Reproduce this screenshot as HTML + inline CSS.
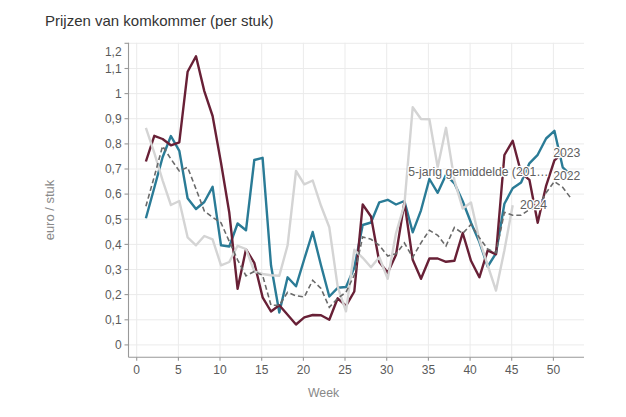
<!DOCTYPE html>
<html><head><meta charset="utf-8"><style>
html,body{margin:0;padding:0;background:#fff;width:626px;height:417px;overflow:hidden}
svg{display:block}
text{font-family:"Liberation Sans",sans-serif}
.tl{font-size:12px;fill:#5a5a5a}
.ll{font-size:12.2px;fill:#606060;stroke:#fff;stroke-width:2.4px;paint-order:stroke;stroke-linejoin:round}
</style></head><body>
<svg width="626" height="417" viewBox="0 0 626 417">
<rect width="626" height="417" fill="#fff"/>
<text x="45.0" y="25.8" style="font-size:15px;fill:#333">Prijzen van komkommer (per stuk)</text>
<text transform="translate(54,210) rotate(-90)" text-anchor="middle" style="font-size:13px;fill:#888">euro / stuk</text>
<text x="323.6" y="397.0" text-anchor="middle" style="font-size:12.3px;fill:#888">Week</text>
<line x1="128.5" y1="344.9" x2="584.0" y2="344.9" stroke="#ebebeb" stroke-width="1"/>
<line x1="128.5" y1="319.8" x2="584.0" y2="319.8" stroke="#ebebeb" stroke-width="1"/>
<line x1="128.5" y1="294.6" x2="584.0" y2="294.6" stroke="#ebebeb" stroke-width="1"/>
<line x1="128.5" y1="269.5" x2="584.0" y2="269.5" stroke="#ebebeb" stroke-width="1"/>
<line x1="128.5" y1="244.4" x2="584.0" y2="244.4" stroke="#ebebeb" stroke-width="1"/>
<line x1="128.5" y1="219.2" x2="584.0" y2="219.2" stroke="#ebebeb" stroke-width="1"/>
<line x1="128.5" y1="194.1" x2="584.0" y2="194.1" stroke="#ebebeb" stroke-width="1"/>
<line x1="128.5" y1="169.0" x2="584.0" y2="169.0" stroke="#ebebeb" stroke-width="1"/>
<line x1="128.5" y1="143.9" x2="584.0" y2="143.9" stroke="#ebebeb" stroke-width="1"/>
<line x1="128.5" y1="118.7" x2="584.0" y2="118.7" stroke="#ebebeb" stroke-width="1"/>
<line x1="128.5" y1="93.6" x2="584.0" y2="93.6" stroke="#ebebeb" stroke-width="1"/>
<line x1="128.5" y1="68.5" x2="584.0" y2="68.5" stroke="#ebebeb" stroke-width="1"/>
<line x1="128.5" y1="43.3" x2="584.0" y2="43.3" stroke="#ebebeb" stroke-width="1"/>
<line x1="136.7" y1="42.8" x2="136.7" y2="357.3" stroke="#ebebeb" stroke-width="1"/>
<line x1="178.4" y1="42.8" x2="178.4" y2="357.3" stroke="#ebebeb" stroke-width="1"/>
<line x1="220.0" y1="42.8" x2="220.0" y2="357.3" stroke="#ebebeb" stroke-width="1"/>
<line x1="261.7" y1="42.8" x2="261.7" y2="357.3" stroke="#ebebeb" stroke-width="1"/>
<line x1="303.4" y1="42.8" x2="303.4" y2="357.3" stroke="#ebebeb" stroke-width="1"/>
<line x1="345.0" y1="42.8" x2="345.0" y2="357.3" stroke="#ebebeb" stroke-width="1"/>
<line x1="386.7" y1="42.8" x2="386.7" y2="357.3" stroke="#ebebeb" stroke-width="1"/>
<line x1="428.4" y1="42.8" x2="428.4" y2="357.3" stroke="#ebebeb" stroke-width="1"/>
<line x1="470.1" y1="42.8" x2="470.1" y2="357.3" stroke="#ebebeb" stroke-width="1"/>
<line x1="511.7" y1="42.8" x2="511.7" y2="357.3" stroke="#ebebeb" stroke-width="1"/>
<line x1="553.4" y1="42.8" x2="553.4" y2="357.3" stroke="#ebebeb" stroke-width="1"/>
<line x1="128.5" y1="42.8" x2="128.5" y2="357.3" stroke="#999" stroke-width="1.1"/>
<line x1="128.5" y1="357.3" x2="584.0" y2="357.3" stroke="#999" stroke-width="1.1"/>
<line x1="124.5" y1="344.9" x2="128.5" y2="344.9" stroke="#999" stroke-width="1.1"/>
<text x="121.6" y="349.2" text-anchor="end" class="tl">0</text>
<line x1="124.5" y1="319.8" x2="128.5" y2="319.8" stroke="#999" stroke-width="1.1"/>
<text x="121.6" y="324.1" text-anchor="end" class="tl">0,1</text>
<line x1="124.5" y1="294.6" x2="128.5" y2="294.6" stroke="#999" stroke-width="1.1"/>
<text x="121.6" y="298.9" text-anchor="end" class="tl">0,2</text>
<line x1="124.5" y1="269.5" x2="128.5" y2="269.5" stroke="#999" stroke-width="1.1"/>
<text x="121.6" y="273.8" text-anchor="end" class="tl">0,3</text>
<line x1="124.5" y1="244.4" x2="128.5" y2="244.4" stroke="#999" stroke-width="1.1"/>
<text x="121.6" y="248.7" text-anchor="end" class="tl">0,4</text>
<line x1="124.5" y1="219.2" x2="128.5" y2="219.2" stroke="#999" stroke-width="1.1"/>
<text x="121.6" y="223.5" text-anchor="end" class="tl">0,5</text>
<line x1="124.5" y1="194.1" x2="128.5" y2="194.1" stroke="#999" stroke-width="1.1"/>
<text x="121.6" y="198.4" text-anchor="end" class="tl">0,6</text>
<line x1="124.5" y1="169.0" x2="128.5" y2="169.0" stroke="#999" stroke-width="1.1"/>
<text x="121.6" y="173.3" text-anchor="end" class="tl">0,7</text>
<line x1="124.5" y1="143.9" x2="128.5" y2="143.9" stroke="#999" stroke-width="1.1"/>
<text x="121.6" y="148.2" text-anchor="end" class="tl">0,8</text>
<line x1="124.5" y1="118.7" x2="128.5" y2="118.7" stroke="#999" stroke-width="1.1"/>
<text x="121.6" y="123.0" text-anchor="end" class="tl">0,9</text>
<line x1="124.5" y1="93.6" x2="128.5" y2="93.6" stroke="#999" stroke-width="1.1"/>
<text x="121.6" y="97.9" text-anchor="end" class="tl">1</text>
<line x1="124.5" y1="68.5" x2="128.5" y2="68.5" stroke="#999" stroke-width="1.1"/>
<text x="121.6" y="72.8" text-anchor="end" class="tl">1,1</text>
<line x1="124.5" y1="43.3" x2="128.5" y2="43.3" stroke="#999" stroke-width="1.1"/>
<text x="121.6" y="55.9" text-anchor="end" class="tl">1,2</text>
<line x1="136.7" y1="357.3" x2="136.7" y2="360.8" stroke="#999" stroke-width="1.1"/>
<text x="136.7" y="373.9" text-anchor="middle" class="tl">0</text>
<line x1="178.4" y1="357.3" x2="178.4" y2="360.8" stroke="#999" stroke-width="1.1"/>
<text x="178.4" y="373.9" text-anchor="middle" class="tl">5</text>
<line x1="220.0" y1="357.3" x2="220.0" y2="360.8" stroke="#999" stroke-width="1.1"/>
<text x="220.0" y="373.9" text-anchor="middle" class="tl">10</text>
<line x1="261.7" y1="357.3" x2="261.7" y2="360.8" stroke="#999" stroke-width="1.1"/>
<text x="261.7" y="373.9" text-anchor="middle" class="tl">15</text>
<line x1="303.4" y1="357.3" x2="303.4" y2="360.8" stroke="#999" stroke-width="1.1"/>
<text x="303.4" y="373.9" text-anchor="middle" class="tl">20</text>
<line x1="345.0" y1="357.3" x2="345.0" y2="360.8" stroke="#999" stroke-width="1.1"/>
<text x="345.0" y="373.9" text-anchor="middle" class="tl">25</text>
<line x1="386.7" y1="357.3" x2="386.7" y2="360.8" stroke="#999" stroke-width="1.1"/>
<text x="386.7" y="373.9" text-anchor="middle" class="tl">30</text>
<line x1="428.4" y1="357.3" x2="428.4" y2="360.8" stroke="#999" stroke-width="1.1"/>
<text x="428.4" y="373.9" text-anchor="middle" class="tl">35</text>
<line x1="470.1" y1="357.3" x2="470.1" y2="360.8" stroke="#999" stroke-width="1.1"/>
<text x="470.1" y="373.9" text-anchor="middle" class="tl">40</text>
<line x1="511.7" y1="357.3" x2="511.7" y2="360.8" stroke="#999" stroke-width="1.1"/>
<text x="511.7" y="373.9" text-anchor="middle" class="tl">45</text>
<line x1="553.4" y1="357.3" x2="553.4" y2="360.8" stroke="#999" stroke-width="1.1"/>
<text x="553.4" y="373.9" text-anchor="middle" class="tl">50</text>
<g transform="translate(1,0.6)">
<path d="M144.9,217.7 L153.3,187.2 L161.6,156.7 L169.9,135.4 L178.3,150.2 L186.6,197.7 L195.0,208.4 L203.3,201.4 L211.6,186.2 L220.0,244.7 L228.3,245.9 L236.6,222.9 L245.0,229.7 L253.3,159.4 L261.6,157.2 L270.0,264.7 L278.3,311.9 L286.6,276.7 L295.0,285.7 L303.3,258.4 L311.7,231.4 L320.0,264.7 L328.3,295.9 L336.7,287.2 L345.0,286.4 L353.3,267.2 L361.7,224.4 L370.0,221.9 L378.3,201.7 L386.7,199.2 L395.0,203.9 L403.4,200.4 L411.7,231.7 L420.0,209.7 L428.4,178.4 L436.7,192.2 L445.0,174.2 L453.4,182.7 L461.7,200.7 L470.0,222.2 L478.4,241.4 L486.7,265.9 L495.0,252.7 L503.4,203.2 L511.7,187.7 L520.1,181.9 L528.4,162.7 L536.7,154.2 L545.1,137.9 L553.4,130.2 L561.7,166.7 L570.1,174.7" fill="none" stroke="#2a7b96" stroke-width="2.4" stroke-linejoin="round"/>
<path d="M144.9,160.9 L153.3,135.2 L161.6,138.4 L169.9,144.7 L178.3,141.7 L186.6,71.2 L195.0,55.7 L203.3,90.5 L211.6,115.4 L220.0,162.2 L228.3,212.2 L236.6,288.2 L245.0,248.7 L253.3,262.2 L261.6,296.7 L270.0,310.9 L278.3,304.7 L286.6,314.2 L295.0,323.9 L303.3,316.7 L311.7,314.4 L320.0,314.7 L328.3,319.2 L336.7,297.7 L345.0,305.2 L353.3,290.9 L361.7,203.9 L370.0,215.9 L378.3,261.4 L386.7,272.2 L395.0,254.2 L403.4,201.7 L411.7,259.2 L420.0,278.2 L428.4,257.9 L436.7,257.9 L445.0,261.2 L453.4,260.2 L461.7,232.4 L470.0,260.2 L478.4,276.7 L486.7,249.7 L495.0,253.7 L503.4,154.4 L511.7,140.2 L520.1,172.2 L528.4,179.2 L536.7,222.2 L545.1,185.2 L553.4,159.7 L561.7,152.2" fill="none" stroke="#682036" stroke-width="2.4" stroke-linejoin="round"/>
<path d="M144.9,127.2 L153.3,152.2 L161.6,179.7 L169.9,204.4 L178.3,200.4 L186.6,236.7 L195.0,244.7 L203.3,235.4 L211.6,238.7 L220.0,264.7 L228.3,261.4 L236.6,245.2 L245.0,248.4 L253.3,270.9 L261.6,273.4 L270.0,274.7 L278.3,275.2 L286.6,244.7 L295.0,170.4 L303.3,183.7 L311.7,179.9 L320.0,205.2 L328.3,226.7 L336.7,286.2 L345.0,310.7 L353.3,249.2 L361.7,257.2 L370.0,266.7 L378.3,256.7 L386.7,278.2 L395.0,232.7 L403.4,203.9 L411.7,106.7 L420.0,118.4 L428.4,118.7 L436.7,166.7 L445.0,127.2 L453.4,179.7 L461.7,207.9 L470.0,201.9 L478.4,239.2 L486.7,264.7 L495.0,289.9 L503.4,249.7 L511.7,204.7" fill="none" stroke="#d4d4d4" stroke-width="2.4" stroke-linejoin="round"/>
<path d="M144.9,205.7 L153.3,175.9 L161.6,145.4 L169.9,158.4 L178.3,170.4 L186.6,166.7 L195.0,188.4 L203.3,210.4 L211.6,216.7 L220.0,222.2 L228.3,240.9 L236.6,259.2 L245.0,275.2 L253.3,270.9 L261.6,274.7 L270.0,304.7 L278.3,304.7 L286.6,291.7 L295.0,295.2 L303.3,296.4 L311.7,279.7 L320.0,287.9 L328.3,306.7 L336.7,297.7 L345.0,291.7 L353.3,274.4 L361.7,236.4 L370.0,238.7 L378.3,244.7 L386.7,255.4 L395.0,253.2 L403.4,242.4 L411.7,256.7 L420.0,242.2 L428.4,229.7 L436.7,234.7 L445.0,245.4 L453.4,226.9 L461.7,232.9 L470.0,223.7 L478.4,237.2 L486.7,248.4 L495.0,252.2 L503.4,211.7 L511.7,214.7 L520.1,214.7 L528.4,208.9 L536.7,207.2 L545.1,192.2 L553.4,180.9 L561.7,186.7 L570.1,197.9" fill="none" stroke="#6a6a6a" stroke-width="1.6" stroke-dasharray="5,3"/>
</g>
<text x="408.2" y="176.0" text-anchor="start" class="ll">5-jarig gemiddelde (201…</text>
<text x="553.2" y="156.9" text-anchor="start" class="ll">2023</text>
<text x="553.2" y="179.9" text-anchor="start" class="ll">2022</text>
<text x="520.0" y="208.7" text-anchor="start" class="ll">2024</text>
</svg>
</body></html>
